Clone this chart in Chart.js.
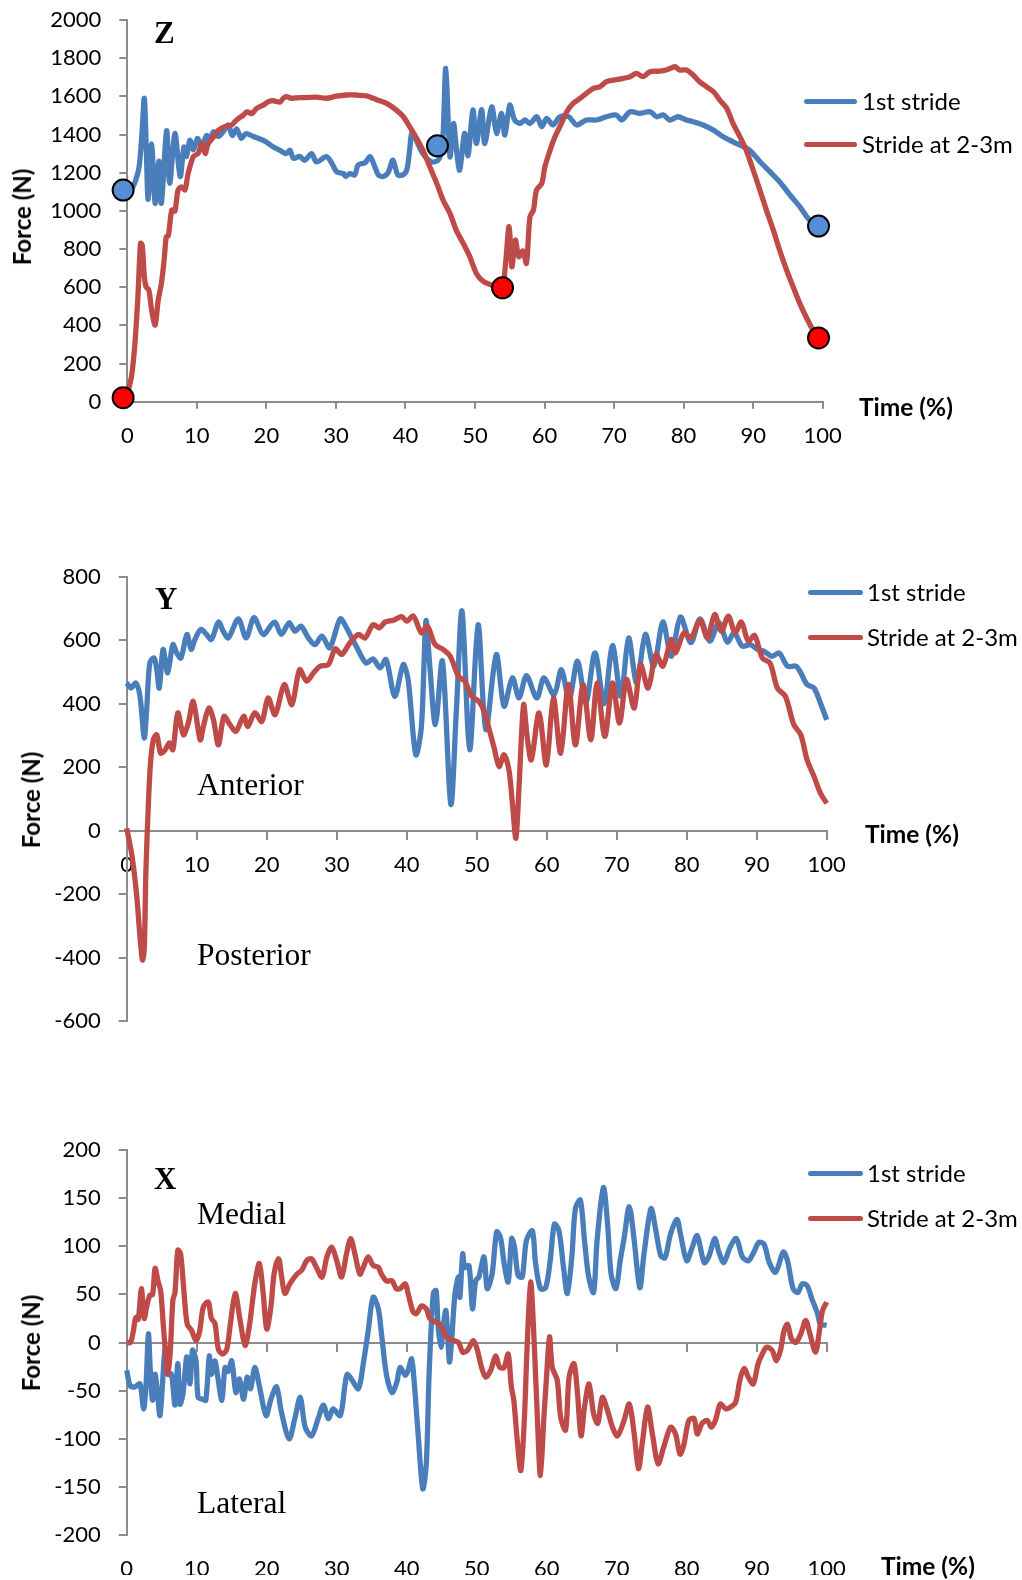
<!DOCTYPE html>
<html>
<head>
<meta charset="utf-8">
<title>Ground reaction force: 1st stride vs stride at 2-3m</title>
<script src="https://cdn.jsdelivr.net/npm/chart.js@4.4.1/dist/chart.umd.min.js"></script>
<style>
  html, body { margin: 0; padding: 0; background: #fff; }
  #page { position: relative; width: 1022px; height: 1580px; overflow: hidden; font-family: Lato, 'Open Sans', sans-serif; color: #000; }
  canvas { position: absolute; left: 0; }
  .lbl { position: absolute; white-space: nowrap; line-height: 1; transform: translateY(-50%); }
  .panel { font-family: 'Liberation Serif', 'DejaVu Serif', serif; font-weight: bold; font-size: 31px; }
  .side { font-family: 'Liberation Serif', 'DejaVu Serif', serif; font-size: 31.5px; }
  .axt { font-weight: bold; font-size: 24.5px; }
  .ytitle { position: absolute; white-space: nowrap; line-height: 1; font-weight: bold; font-size: 24px; transform: translate(-50%, -50%) rotate(-90deg); }
  .leg { position: absolute; height: 0; }
  .leg i { position: absolute; left: 0; height: 5px; top: -2.5px; border-radius: 3px; }
  .leg span { position: absolute; top: -12px; font-size: 24px; line-height: 24px; white-space: nowrap; }
</style>
</head>
<body>
<div id="page">
  <canvas id="chart-z" width="1022" height="485" style="top:-15px"></canvas>
  <canvas id="chart-y" width="1022" height="520" style="top:540px"></canvas>
  <canvas id="chart-x" width="1022" height="480" style="top:1100px"></canvas>

  <!-- Z -->
  <div class="lbl panel" style="left:154px; top:32px">Z</div>
  <div class="ytitle" style="left:22px; top:217px">Force (N)</div>
  <div class="lbl axt" style="left:859px; top:407px">Time (%)</div>
  <div class="leg" style="left:804px; top:101px"><i style="width:53px; background:#4A7EBB"></i><span style="left:58px" id="leg-z1"></span></div>
  <div class="leg" style="left:804px; top:144px"><i style="width:53px; background:#BE4B48"></i><span style="left:58px" id="leg-z2"></span></div>

  <!-- Y -->
  <div class="lbl panel" style="left:155px; top:598px">Y</div>
  <div class="lbl side" style="left:197px; top:785px">Anterior</div>
  <div class="lbl side" style="left:197px; top:955px">Posterior</div>
  <div class="ytitle" style="left:31px; top:800px">Force (N)</div>
  <div class="lbl axt" style="left:865px; top:834px">Time (%)</div>
  <div class="leg" style="left:808px; top:592px"><i style="width:55px; background:#4A7EBB"></i><span style="left:59px" id="leg-y1"></span></div>
  <div class="leg" style="left:808px; top:637px"><i style="width:55px; background:#BE4B48"></i><span style="left:59px" id="leg-y2"></span></div>

  <!-- X -->
  <div class="lbl panel" style="left:154px; top:1178px">X</div>
  <div class="lbl side" style="left:197px; top:1214px">Medial</div>
  <div class="lbl side" style="left:197px; top:1503px">Lateral</div>
  <div class="ytitle" style="left:31px; top:1343px">Force (N)</div>
  <div class="lbl axt" style="left:881px; top:1566px">Time (%)</div>
  <div class="leg" style="left:808px; top:1173px"><i style="width:55px; background:#4A7EBB"></i><span style="left:59px" id="leg-x1"></span></div>
  <div class="leg" style="left:808px; top:1218px"><i style="width:55px; background:#BE4B48"></i><span style="left:59px" id="leg-x2"></span></div>
</div>

<script>
// series names
const seriesNames = ['1st stride', 'Stride at 2-3m'];

// vertical force (Z), [time %, N]
const zFirst = [[0,1110],[0.6,1115],[1.2,1160],[1.7,1230],[2.1,1400],[2.45,1590],[2.75,1300],[3.0,1060],[3.5,1350],[4.0,1040],[4.55,1260],[4.9,1040],[5.65,1420],[6.1,1145],[6.85,1405],[7.6,1180],[8.15,1335],[8.5,1285],[9.0,1370],[9.5,1320],[10.1,1380],[10.7,1335],[11.4,1395],[11.9,1375],[12.4,1415],[13.1,1390],[13.8,1415],[14.5,1450],[15.1,1395],[15.7,1430],[16.4,1380],[17.05,1405],[18.1,1390],[19.55,1370],[20.0,1360],[21.0,1335],[21.9,1318],[22.9,1300],[23.4,1318],[23.9,1275],[24.8,1285],[25.5,1265],[26.5,1300],[27.2,1257],[28.65,1284],[29.4,1250],[30.1,1205],[31.05,1196],[31.4,1180],[32.0,1195],[32.7,1188],[33.2,1240],[34.2,1252],[34.9,1284],[35.5,1240],[36.1,1188],[36.8,1180],[37.5,1200],[38.2,1266],[38.9,1188],[39.7,1190],[40.2,1215],[40.6,1318],[40.9,1406],[41.4,1380],[42.5,1300],[43.7,1257],[44.7,1266],[45.3,1330],[45.8,1746],[46.4,1284],[46.9,1458],[47.4,1300],[47.8,1214],[48.5,1406],[49.0,1290],[49.7,1528],[50.2,1353],[50.95,1530],[51.4,1353],[52.4,1545],[53.1,1406],[53.8,1511],[54.3,1397],[55.0,1554],[55.7,1476],[56.5,1458],[57.2,1476],[57.9,1458],[58.9,1493],[59.6,1441],[60.3,1484],[61.2,1450],[62.2,1493],[63.5,1493],[64.6,1450],[66.0,1476],[67.5,1476],[68.9,1493],[70.35,1502],[71.1,1476],[72.3,1519],[73.7,1511],[75.2,1519],[76.1,1493],[77.1,1502],[78.0,1476],[79.2,1493],[80.4,1476],[81.4,1467],[82.8,1450],[84.3,1423],[85.7,1388],[87.1,1362],[88.6,1336],[89.5,1318],[91.0,1257],[92.4,1205],[93.8,1153],[95.3,1083],[96.7,1022],[98.1,952],[99.4,920]];
const zStride = [[0,40],[0.6,131],[1.1,306],[1.55,568],[1.9,830],[2.15,820],[2.45,655],[2.7,602],[3.1,585],[3.5,480],[4.0,402],[4.45,533],[4.9,620],[5.3,742],[5.6,864],[5.9,870],[6.4,1004],[6.85,1000],[7.3,1109],[7.8,1126],[8.3,1110],[8.75,1196],[9.5,1284],[10.2,1301],[10.7,1353],[11.2,1300],[11.6,1350],[12.4,1388],[13.1,1423],[14.0,1441],[15.0,1450],[15.7,1476],[16.7,1502],[17.2,1519],[17.9,1510],[18.6,1537],[19.55,1554],[20.3,1572],[21.0,1577],[21.95,1570],[22.4,1589],[22.9,1598],[23.6,1590],[24.8,1593],[26.25,1595],[27.5,1595],[28.65,1590],[30.1,1601],[31.5,1607],[32.95,1607],[34.4,1602],[35.8,1584],[37.3,1563],[38.7,1528],[39.7,1493],[40.6,1441],[41.6,1380],[42.5,1318],[43.5,1231],[44.5,1144],[45.4,1057],[46.4,987],[47.3,899],[48.3,830],[49.25,760],[50.2,672],[51.2,630],[52.4,611],[53.4,594],[53.96,597],[54.4,725],[54.9,917],[55.3,707],[55.8,847],[56.3,760],[56.9,790],[57.4,725],[57.9,969],[58.4,1004],[58.85,1109],[59.6,1144],[60.05,1231],[60.8,1318],[61.5,1388],[62.2,1441],[63.2,1519],[64.1,1563],[65.1,1589],[66.0,1615],[67.0,1642],[67.95,1650],[68.9,1677],[69.9,1685],[71.3,1694],[72.3,1703],[73.2,1720],[74.2,1703],[75.15,1729],[76.6,1732],[77.5,1738],[78.75,1755],[79.4,1738],[80.4,1738],[81.4,1711],[82.3,1677],[83.3,1650],[84.3,1624],[85.2,1580],[86.2,1537],[87.1,1458],[88.1,1388],[89.0,1318],[90.0,1214],[90.97,1109],[91.9,1004],[92.9,899],[93.8,795],[94.8,690],[95.75,602],[96.7,515],[97.6,445],[98.6,375],[99.4,334]];
// event markers on the Z curves
const zFirstEvents = [[-0.6,1109],[44.6,1341],[99.4,920]];
const zStrideEvents = [[-0.6,21],[53.96,597],[99.4,334]];

// anterior-posterior force (Y)
const yFirst = [[0,465],[0.6,449],[1.3,465],[1.9,423],[2.5,292],[2.85,381],[3.3,528],[3.9,544],[4.3,507],[4.65,449],[5.2,571],[5.85,497],[6.6,586],[7.15,560],[7.75,544],[8.6,618],[9.2,571],[9.75,602],[10.6,634],[11.4,618],[12.1,602],[13.1,657],[13.8,628],[14.5,607],[15.95,667],[17.05,607],[18.2,671],[19.5,618],[21.1,657],[22.1,618],[23.2,655],[24.05,628],[24.9,644],[25.95,607],[26.9,586],[27.9,613],[29.0,576],[30.5,667],[31.4,639],[32.9,576],[34.2,528],[35.2,541],[36.2,513],[37.05,539],[38.3,423],[39.5,523],[40.2,476],[41.3,239],[42.1,328],[42.75,660],[43.3,518],[44.1,334],[45.1,534],[46.3,83],[47.1,381],[47.9,692],[49.0,255],[50.2,649],[51.3,318],[52.8,555],[53.9,392],[55.1,481],[56.05,418],[57.1,488],[58.6,418],[59.6,481],[61.05,428],[62.1,507],[63.2,413],[64.4,534],[65.6,402],[66.9,560],[68.2,400],[69.4,583],[70.6,423],[71.7,607],[72.85,465],[74.1,618],[75.3,518],[76.6,657],[77.8,549],[79.1,673],[80.6,592],[81.9,667],[83.3,597],[84.6,655],[85.8,594],[86.8,623],[87.95,581],[89.1,586],[90.1,571],[91.05,565],[92.2,549],[93.2,560],[94.4,518],[95.6,518],[96.3,497],[97.2,460],[98.2,449],[99.1,402],[100,349]];
const yStride = [[0,7],[0.7,-72],[1.4,-198],[1.9,-335],[2.25,-408],[2.5,-377],[2.75,-124],[3.1,86],[3.4,213],[3.8,286],[4.3,302],[4.85,244],[5.5,255],[6.1,276],[6.6,255],[7.3,371],[8.1,302],[8.8,339],[9.5,407],[10.5,286],[10.95,328],[11.75,386],[12.4,349],[13.1,270],[13.9,360],[14.75,334],[15.6,313],[16.7,360],[17.3,328],[18.3,371],[19.3,344],[20.2,418],[21.2,365],[22.5,460],[23.6,397],[24.7,507],[25.7,471],[26.7,497],[27.6,518],[28.8,523],[29.8,573],[30.7,555],[31.9,592],[33.1,618],[34.05,607],[35.2,649],[36.1,639],[36.9,657],[38.1,663],[39.3,674],[40.0,660],[40.95,676],[42.1,623],[42.95,644],[44.05,586],[45.2,571],[46.2,550],[47.4,486],[48.3,471],[49.3,423],[50.3,407],[51.05,376],[51.8,318],[52.5,260],[53.2,202],[53.9,239],[54.6,192],[55.1,86],[55.6,-24],[56.05,139],[56.7,397],[57.2,297],[57.8,223],[58.9,371],[59.95,207],[60.95,418],[62.0,244],[63.1,460],[64.1,270],[65.2,460],[66.3,286],[67.2,465],[68.3,297],[69.4,465],[70.4,339],[71.4,476],[72.5,386],[73.4,523],[74.5,449],[75.6,555],[76.6,518],[77.8,602],[78.4,560],[79.6,623],[80.6,607],[81.9,663],[82.95,607],[84.0,681],[84.95,628],[85.95,676],[86.9,623],[87.8,657],[88.8,597],[89.7,615],[90.8,544],[91.9,528],[92.95,449],[94.1,423],[95.3,334],[96.3,302],[97.2,223],[98.2,170],[99.1,118],[100,86]];

// medial-lateral force (X)
const xFirst = [[0,-29],[0.5,-45],[1.2,-46],[1.9,-43],[2.4,-69],[2.75,-46],[3.1,9],[3.4,-33],[3.7,-60],[4.05,-33],[4.4,-53],[4.75,-76],[5.15,-39],[5.5,-5],[5.95,-33],[6.4,-33],[6.9,-65],[7.3,-22],[7.6,-64],[8.0,-55],[8.3,-33],[8.6,-15],[9.05,-43],[9.4,-8],[9.9,-19],[10.2,-57],[10.85,-59],[11.3,-60],[11.8,-14],[12.1,-33],[12.6,-19],[12.95,-33],[13.6,-60],[14.05,-26],[14.5,-30],[15.0,-19],[15.6,-52],[16.1,-38],[16.7,-59],[17.2,-36],[17.7,-48],[18.3,-26],[18.95,-45],[19.9,-76],[20.6,-59],[21.4,-46],[22.1,-72],[23.2,-100],[24.05,-78],[24.8,-57],[25.5,-88],[26.4,-97],[27.4,-78],[28.1,-65],[28.8,-79],[29.5,-69],[30.5,-76],[31.2,-43],[31.5,-33],[32.1,-38],[33.1,-48],[33.8,-22],[34.5,12],[35.2,47],[35.95,35],[36.4,9],[37.1,-33],[37.9,-52],[38.6,-41],[39.05,-26],[39.8,-34],[40.2,-29],[40.7,-17],[41.05,-39],[41.7,-102],[42.3,-152],[42.8,-126],[43.2,-33],[43.8,51],[44.2,54],[44.5,16],[44.9,-5],[45.2,16],[45.6,33],[46.1,-20],[46.4,0],[46.9,51],[47.4,68],[47.6,47],[48.0,92],[48.3,78],[48.9,80],[49.4,35],[49.85,64],[50.3,68],[51.05,89],[51.5,56],[52.2,71],[52.85,115],[53.4,109],[53.9,83],[54.5,63],[55.0,108],[55.4,99],[55.9,70],[56.5,68],[57.1,106],[57.95,116],[58.4,83],[59.1,56],[59.85,57],[60.5,85],[61.1,123],[61.75,116],[62.4,78],[62.95,51],[63.6,90],[64.1,139],[64.8,148],[65.4,106],[66.0,68],[66.7,52],[67.2,106],[68.1,161],[68.7,123],[69.2,71],[69.9,56],[70.5,85],[71.05,108],[71.8,141],[72.5,106],[73.3,57],[73.9,92],[74.9,139],[75.6,116],[76.3,90],[76.9,88],[77.7,113],[78.6,128],[79.1,113],[80.0,85],[80.8,99],[81.5,111],[82.5,83],[83.2,90],[84.0,108],[84.6,94],[85.3,83],[86.2,99],[87.1,108],[87.95,89],[88.8,85],[89.6,94],[90.3,104],[91.05,102],[91.8,83],[92.7,73],[93.8,94],[94.4,85],[95.2,56],[95.9,52],[96.5,61],[97.2,59],[97.95,44],[98.7,30],[99.1,19],[100,18]];
const xStride = [[0,0],[0.55,0],[0.95,12],[1.3,26],[1.65,24],[2.1,56],[2.5,25],[2.85,37],[3.3,49],[3.7,50],[4.05,77],[4.5,63],[4.85,54],[5.25,16],[5.6,-15],[5.85,-33],[6.2,-12],[6.6,44],[6.9,52],[7.3,96],[7.7,92],[8.2,51],[8.65,19],[9.3,12],[9.9,2],[10.4,11],[10.95,37],[11.65,42],[12.1,25],[12.6,20],[13.1,-7],[13.7,-12],[14.3,-7],[14.75,16],[15.5,51],[16.2,23],[16.9,-3],[17.5,16],[18.3,61],[18.95,82],[19.5,51],[20.0,14],[20.6,37],[21.05,71],[21.7,87],[22.1,70],[22.6,51],[23.3,61],[24.3,71],[25.0,75],[25.7,85],[26.4,87],[27.1,78],[27.9,68],[28.6,89],[29.3,99],[30.0,85],[30.7,68],[31.4,92],[32.0,108],[32.6,92],[33.3,71],[33.8,78],[34.5,89],[35.2,80],[35.95,78],[36.4,71],[37.1,64],[37.9,64],[38.5,56],[39.05,56],[39.8,61],[40.2,51],[40.9,32],[41.4,30],[42.1,38],[42.8,35],[43.3,25],[44.2,21],[44.75,19],[45.2,12],[45.9,4],[46.7,2],[47.4,0],[48.0,-10],[48.7,-8],[49.5,2],[50.1,-8],[50.7,-26],[51.3,-36],[52.0,-29],[52.7,-14],[53.3,-26],[53.9,-26],[54.5,-12],[54.95,-46],[55.3,-60],[55.8,-102],[56.3,-133],[56.8,-81],[57.2,-5],[57.7,63],[58.2,2],[58.7,-84],[59.1,-138],[59.6,-78],[60.0,-33],[60.4,6],[60.8,-26],[61.5,-39],[62.0,-78],[62.7,-91],[63.2,-36],[63.9,-22],[64.4,-53],[64.9,-97],[65.4,-67],[66.05,-43],[66.7,-74],[67.3,-84],[67.95,-57],[68.7,-71],[69.4,-88],[70.1,-97],[71.05,-81],[71.8,-64],[72.5,-95],[73.1,-131],[73.7,-102],[74.4,-67],[75.1,-95],[75.9,-126],[76.7,-109],[77.7,-88],[78.4,-95],[79.05,-116],[79.6,-106],[80.3,-81],[81.05,-79],[81.5,-95],[82.2,-84],[82.95,-81],[83.5,-88],[84.1,-81],[84.8,-64],[85.6,-69],[86.3,-67],[87.0,-62],[87.6,-39],[88.2,-27],[88.8,-36],[89.5,-43],[90.2,-22],[90.8,-12],[91.4,-5],[92.2,-8],[92.8,-19],[93.4,-8],[93.9,12],[94.4,19],[94.95,4],[95.6,0],[96.3,9],[97.0,23],[97.6,9],[98.4,-10],[98.9,9],[99.4,33],[100,42]];

const BLUE = '#4A7EBB';
const RED = '#BE4B48';
const AXIS_GRAY = '#8C8C8C';
const tickFont = { family: 'Lato, "Open Sans", sans-serif', size: 22 };

// legends are plain html
['z', 'y', 'x'].forEach(k => {
    document.getElementById('leg-' + k + '1').textContent = seriesNames[0];
    document.getElementById('leg-' + k + '2').textContent = seriesNames[1];
});

function pts(arr) {
    return arr.map(p => ({ x: p[0], y: p[1] }));
}

function lineSet(label, arr, color, order) {
    return {
        label: label,
        data: pts(arr),
        borderColor: color,
        backgroundColor: color,
        borderWidth: 5.3,
        pointRadius: 0,
        tension: 0.3,
        clip: false,
        order: order
    };
}

function markerSet(label, arr, fill) {
    return {
        label: label,
        data: pts(arr),
        showLine: false,
        pointRadius: 10.5,
        pointBackgroundColor: fill,
        pointBorderColor: '#000',
        pointBorderWidth: 2,
        clip: false,
        order: 0
    };
}

function yAxis(min, max, step, width) {
    return {
        type: 'linear',
        min: min,
        max: max,
        ticks: { stepSize: step, color: '#000', font: tickFont, padding: 18, callback: v => String(v) },
        grid: { drawOnChartArea: false, drawTicks: true, tickLength: 8, color: AXIS_GRAY, lineWidth: 2 },
        border: { color: AXIS_GRAY, width: 2 },
        afterFit: s => { s.width = width; }
    };
}

function timeAxis(extra) {
    return Object.assign({
        type: 'linear',
        min: 0,
        max: 100,
        ticks: { stepSize: 10, color: '#000', font: tickFont, padding: 14, maxRotation: 0, autoSkip: false, callback: v => String(v) },
        grid: { drawOnChartArea: false, drawTicks: true, tickLength: 7, color: AXIS_GRAY, lineWidth: 2 },
        border: { color: AXIS_GRAY, width: 2 }
    }, extra);
}

const commonOptions = {
    responsive: false,
    animation: false,
    events: [],
    plugins: { legend: { display: false }, tooltip: { enabled: false } }
};

// Z  (y tick padding adds ~31px of label room, so paddings stay above that)
new Chart(document.getElementById('chart-z'), {
    type: 'line',
    data: {
        datasets: [
            markerSet('1st stride events', zFirstEvents, '#558ED5'),
            markerSet('Stride at 2-3m events', zStrideEvents, '#FF0000'),
            lineSet(seriesNames[1], zStride, RED, 1),
            lineSet(seriesNames[0], zFirst, BLUE, 2)
        ]
    },
    options: Object.assign({}, commonOptions, {
        layout: { padding: { left: 0, right: 199.3, top: 35, bottom: 8.3 } },
        scales: {
            x: timeAxis({ afterFit: s => { s.height = 60; } }),
            y: yAxis(0, 2000, 200, 127.3)
        }
    })
});

// Y
new Chart(document.getElementById('chart-y'), {
    type: 'line',
    data: {
        datasets: [
            lineSet(seriesNames[1], yStride, RED, 1),
            lineSet(seriesNames[0], yFirst, BLUE, 2)
        ]
    },
    options: Object.assign({}, commonOptions, {
        layout: { padding: { left: 0, right: 195.3, top: 36.7, bottom: 39 } },
        scales: {
            x: timeAxis({
                position: { y: 0 },
                ticks: { stepSize: 10, color: '#000', font: tickFont, padding: 13.4, maxRotation: 0, autoSkip: false, callback: v => String(v) },
                grid: { drawOnChartArea: false, drawTicks: true, tickLength: 8, color: AXIS_GRAY, lineWidth: 2 }
            }),
            y: yAxis(-600, 800, 200, 126.7)
        }
    })
});

// X
new Chart(document.getElementById('chart-x'), {
    type: 'line',
    data: {
        datasets: [
            lineSet(seriesNames[1], xStride, RED, 1),
            lineSet(seriesNames[0], xFirst, BLUE, 2)
        ]
    },
    options: Object.assign({}, commonOptions, {
        layout: { padding: { left: 0, right: 195.3, top: 50, bottom: 5 } },
        scales: {
            x: timeAxis({
                grid: { display: false, drawTicks: false },
                border: { display: false },
                ticks: { stepSize: 10, color: '#000', font: tickFont, padding: 21, maxRotation: 0, autoSkip: false, callback: v => String(v) },
                afterFit: s => { s.height = 40; }
            }),
            // zero line with its tick marks
            x2: timeAxis({
                position: { y: 0 },
                ticks: { display: false, stepSize: 10 },
                grid: { drawOnChartArea: false, drawTicks: true, tickLength: 8, color: AXIS_GRAY, lineWidth: 2 }
            }),
            y: yAxis(-200, 200, 50, 126.7)
        }
    })
});
</script>
</body>
</html>
